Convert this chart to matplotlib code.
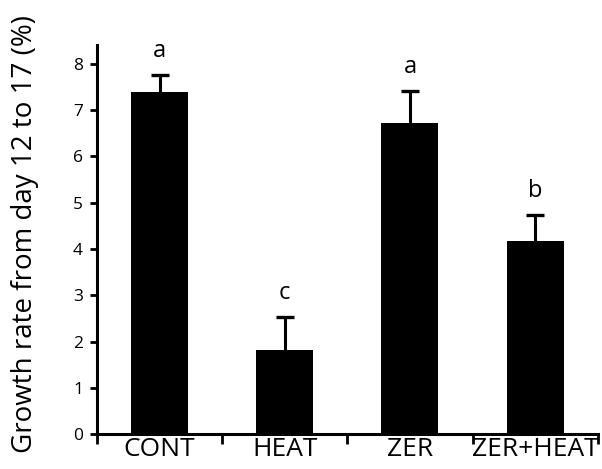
import numpy as np
import matplotlib.pyplot as plt

# Datos
grupos = ['CONT', 'HEAT', 'ZER', 'ZER+HEAT']
medias = [7.39, 1.82, 6.72, 4.17]
errores = [0.38, 0.71, 0.70, 0.57]
letras = ['a', 'c', 'a', 'b']

plt.rcParams['font.family'] = ['Open Sans', 'DejaVu Sans']

fig = plt.figure(figsize=(6.02, 4.69), dpi=100)
ax = fig.add_axes([0.161, 0.0746, 0.832, 0.8294])

x = np.arange(len(grupos))
ax.bar(x, medias, width=0.455, color='black')
linea, caps, barras = ax.errorbar(x, medias, yerr=[np.zeros(len(errores)), errores], fmt='none',
                                  ecolor='black', elinewidth=2.2, capsize=6.5, capthick=2.4)
# Solo se muestra la barra de error superior
caps[0].set_visible(False)

# Letras de significancia
for xi, m, e, l in zip(x, medias, errores, letras):
    ax.text(xi, m + e + 0.25, l, ha='center', va='bottom', fontsize=17)

ax.set_xlim(-0.5, 3.5)
ax.set_ylim(0, 8.41)
ax.set_yticks(range(9))
ax.tick_params(axis='y', labelsize=12.5, width=2, length=5, direction='out', pad=5)

# Ticks en los limites de categoria, etiquetas centradas en las barras
ax.set_xticks(np.arange(-0.5, 4.0, 1.0))
ax.set_xticklabels([])
ax.set_xticks(x, minor=True)
ax.set_xticklabels(grupos, minor=True, fontsize=19)
ax.tick_params(axis='x', which='major', width=2, length=7, direction='out')
ax.tick_params(axis='x', which='minor', length=0, pad=2)

ax.spines['top'].set_visible(False)
ax.spines['right'].set_visible(False)
ax.spines['left'].set_linewidth(2.2)
ax.spines['bottom'].set_linewidth(2.2)

ax.set_ylabel('Growth rate from day 12 to 17 (%)', fontsize=20)
ax.yaxis.set_label_coords(-0.115, 0.515)

fig.savefig('out.png', dpi=100)
